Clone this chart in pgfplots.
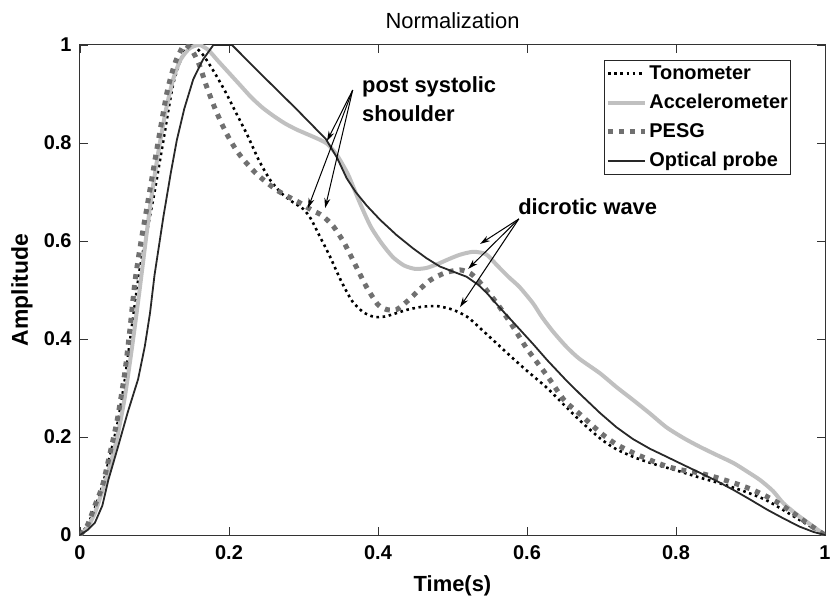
\documentclass[border=0pt]{standalone}
\usepackage{fontspec}
\setmainfont{Liberation Sans}
\usepackage{pgfplots}
\pgfplotsset{compat=1.18}
\usetikzlibrary{arrows.meta}
\definecolor{accgray}{RGB}{192,192,192}
\definecolor{pesggray}{RGB}{112,112,112}
\definecolor{optgray}{RGB}{40,40,40}
\begin{document}
\begin{tikzpicture}
\begin{axis}[
  width=745bp, height=490bp, scale only axis,
  xmin=0, xmax=1, ymin=0, ymax=1,
  xtick={0,0.2,0.4,0.6,0.8,1},
  ytick={0,0.2,0.4,0.6,0.8,1},
  xtick pos=both, ytick pos=both, tick align=inside,
  major tick length=8bp,
  axis line style={draw=black!80, line width=1bp},
  tick style={black!80, line width=0.9bp},
  /pgf/number format/assume math mode=true,
  ticklabel style={font=\fontsize{20}{23}\selectfont\bfseries},
  xticklabel style={yshift=-7bp},
  yticklabel style={xshift=-5bp},
  xlabel={Time(s)}, ylabel={Amplitude},
  xlabel style={font=\fontsize{22}{25}\selectfont\bfseries, at={(axis description cs:0.5,-0.103)}, anchor=center},
  ylabel style={font=\fontsize{23}{26}\selectfont\bfseries, at={(axis description cs:-0.078,0.5)}, anchor=center},
  title={Normalization},
  title style={font=\fontsize{22}{26}\selectfont, at={(axis description cs:0.5,1.038)}, anchor=center},
  legend cell align=left,
  legend image code/.code={\draw[#1] (0bp,0bp) -- (37bp,0bp);},
  legend style={at={(0.955,0.97)}, anchor=north east, draw=black!85, line width=1.2bp,
    font=\fontsize{20}{23}\selectfont\bfseries, inner sep=1bp, row sep=4bp,
    nodes={inner sep=2bp, text height=16bp, text depth=5bp}},
]
\coordinate (sw) at (rel axis cs:0,0);
\coordinate (ne) at (rel axis cs:1,1);

% Tonometer
\addplot[black, line width=2.6bp, dash pattern=on 2.6bp off 3.6bp, smooth, tension=0.4] coordinates {
(0,0) (0.01,0.02) (0.02,0.055) (0.03,0.1) (0.04,0.16) (0.05,0.225) (0.06,0.315) (0.07,0.43) (0.08,0.54) (0.09,0.62) (0.1,0.7) (0.112,0.806) (0.125,0.92) (0.138,0.98) (0.15,1.0) (0.165,0.98) (0.18,0.945) (0.195,0.905) (0.21,0.86) (0.225,0.815) (0.24,0.765) (0.255,0.725) (0.27,0.698) (0.285,0.68) (0.3,0.665) (0.31,0.645) (0.32,0.615) (0.335,0.57) (0.35,0.52) (0.365,0.478) (0.38,0.455) (0.395,0.445) (0.41,0.446) (0.425,0.453) (0.44,0.46) (0.46,0.466) (0.48,0.467) (0.5,0.46) (0.52,0.445) (0.54,0.418) (0.56,0.39) (0.58,0.362) (0.6,0.335) (0.627,0.3) (0.65,0.265) (0.675,0.228) (0.7,0.195) (0.72,0.175) (0.745,0.158) (0.77,0.145) (0.8,0.132) (0.83,0.118) (0.86,0.105) (0.89,0.09) (0.92,0.072) (0.945,0.05) (0.97,0.027) (1,0)
};
\addlegendentry{Tonometer}

% Accelerometer
\addplot[accgray, line width=4bp, smooth, tension=0.4] coordinates {
(0,0) (0.01,0.015) (0.02,0.045) (0.03,0.09) (0.04,0.14) (0.05,0.2) (0.06,0.28) (0.07,0.385) (0.08,0.5) (0.094,0.67) (0.105,0.78) (0.115,0.865) (0.125,0.93) (0.135,0.97) (0.147,0.993) (0.16,1.0) (0.172,0.99) (0.185,0.968) (0.2,0.943) (0.215,0.918) (0.23,0.893) (0.245,0.872) (0.26,0.855) (0.275,0.84) (0.29,0.828) (0.305,0.818) (0.32,0.808) (0.332,0.798) (0.345,0.775) (0.36,0.735) (0.375,0.68) (0.39,0.63) (0.405,0.595) (0.42,0.567) (0.435,0.55) (0.45,0.543) (0.465,0.545) (0.48,0.553) (0.495,0.563) (0.51,0.572) (0.528,0.578) (0.545,0.573) (0.56,0.55) (0.575,0.527) (0.59,0.506) (0.608,0.473) (0.62,0.445) (0.635,0.415) (0.653,0.384) (0.67,0.36) (0.698,0.33) (0.72,0.302) (0.742,0.276) (0.765,0.248) (0.787,0.22) (0.81,0.198) (0.832,0.18) (0.855,0.163) (0.877,0.147) (0.895,0.13) (0.913,0.112) (0.93,0.09) (0.944,0.065) (0.962,0.042) (0.98,0.022) (1,0)
};
\addlegendentry{Accelerometer}

% PESG
\addplot[pesggray, line width=5bp, dash pattern=on 5bp off 6bp, smooth, tension=0.4] coordinates {
(0,0) (0.01,0.02) (0.02,0.06) (0.03,0.1) (0.04,0.165) (0.05,0.235) (0.06,0.33) (0.067,0.42) (0.074,0.52) (0.082,0.6) (0.09,0.67) (0.103,0.786) (0.117,0.905) (0.128,0.965) (0.14,1.0) (0.15,0.99) (0.16,0.96) (0.17,0.915) (0.18,0.875) (0.19,0.84) (0.2,0.81) (0.21,0.785) (0.22,0.765) (0.235,0.74) (0.25,0.72) (0.265,0.703) (0.28,0.69) (0.295,0.678) (0.31,0.664) (0.325,0.652) (0.34,0.63) (0.355,0.595) (0.37,0.55) (0.385,0.505) (0.4,0.47) (0.412,0.46) (0.425,0.46) (0.44,0.478) (0.455,0.5) (0.47,0.52) (0.49,0.535) (0.51,0.541) (0.525,0.533) (0.54,0.51) (0.56,0.472) (0.58,0.428) (0.6,0.38) (0.627,0.325) (0.65,0.275) (0.67,0.248) (0.7,0.207) (0.72,0.185) (0.745,0.166) (0.77,0.15) (0.79,0.139) (0.81,0.132) (0.83,0.127) (0.855,0.117) (0.88,0.105) (0.9,0.094) (0.92,0.08) (0.94,0.063) (0.96,0.042) (0.98,0.02) (1,0)
};
\addlegendentry{PESG}

% Optical probe
\addplot[optgray, line width=1.8bp] coordinates {
(0,0) (0.01,0.01) (0.02,0.025) (0.03,0.06) (0.038,0.112) (0.051,0.18) (0.064,0.25) (0.078,0.318) (0.087,0.385) (0.094,0.453) (0.1,0.53) (0.112,0.65) (0.122,0.74) (0.13,0.806) (0.14,0.87) (0.152,0.93) (0.165,0.97) (0.179,1.0) (0.204,1.0) (0.25,0.93) (0.29,0.87) (0.33,0.808) (0.345,0.77) (0.358,0.728) (0.37,0.7) (0.385,0.672) (0.403,0.643) (0.425,0.612) (0.447,0.585) (0.465,0.565) (0.483,0.548) (0.5,0.538) (0.519,0.527) (0.535,0.51) (0.546,0.494) (0.564,0.463) (0.581,0.435) (0.608,0.39) (0.627,0.357) (0.653,0.315) (0.671,0.288) (0.698,0.249) (0.72,0.22) (0.742,0.196) (0.765,0.176) (0.787,0.16) (0.81,0.143) (0.832,0.127) (0.855,0.11) (0.877,0.092) (0.9,0.072) (0.922,0.052) (0.944,0.034) (0.966,0.017) (0.985,0.006) (1,0)
};
\addlegendentry{Optical probe}

% annotations
\node[anchor=base west, inner sep=0pt, font=\fontsize{22}{26}\selectfont\bfseries] at (axis cs:0.3785,0.904) {post systolic};
\node[anchor=base west, inner sep=0pt, font=\fontsize{22}{26}\selectfont\bfseries] at (axis cs:0.3785,0.843) {shoulder};
\node[anchor=base west, inner sep=0pt, font=\fontsize{22}{26}\selectfont\bfseries] at (axis cs:0.588,0.655) {dicrotic wave};

\draw[black, line width=1bp, -{Stealth[length=10bp,width=6bp]}] (axis cs:0.366,0.908) -- (axis cs:0.3315,0.804);
\draw[black, line width=1bp, -{Stealth[length=10bp,width=6bp]}] (axis cs:0.366,0.908) -- (axis cs:0.306,0.667);
\draw[black, line width=1bp, -{Stealth[length=10bp,width=6bp]}] (axis cs:0.366,0.908) -- (axis cs:0.329,0.667);

\draw[black, line width=1bp, -{Stealth[length=10bp,width=6bp]}] (axis cs:0.589,0.645) -- (axis cs:0.537,0.594);
\draw[black, line width=1bp, -{Stealth[length=10bp,width=6bp]}] (axis cs:0.589,0.645) -- (axis cs:0.521,0.543);
\draw[black, line width=1bp, -{Stealth[length=10bp,width=6bp]}] (axis cs:0.589,0.645) -- (axis cs:0.51,0.465);
\end{axis}
\pgfresetboundingbox
\path[use as bounding box] ([shift={(-80bp,-63bp)}]sw) rectangle ([shift={(5bp,45bp)}]ne);
\end{tikzpicture}
\end{document}
